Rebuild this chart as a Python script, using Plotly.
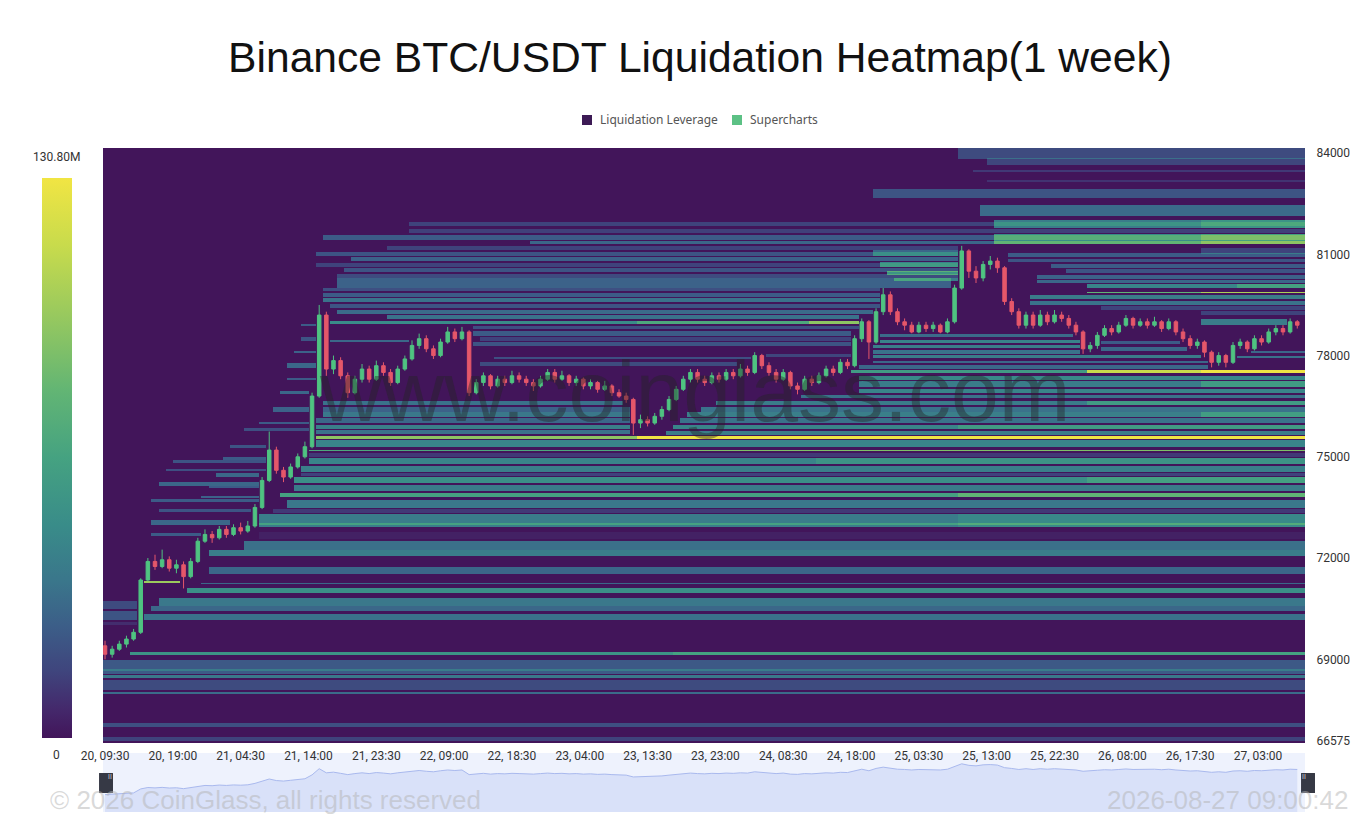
import numpy as np
import pandas as pd
import plotly.graph_objects as go

START = "2026-08-20 09:30"

# hourly BTC/USDT candles, 20 09:30 -> 27 08:30
first_open = 69400
close = [69150, 69300, 69450, 69600, 69800, 71350, 71900, 71750, 71950, 71700,
         71800, 71450, 71900, 72500, 72700, 72600, 72850, 72700, 72900, 72800,
         72950, 73500, 74300, 75200, 74600, 74400, 74700, 75000, 75300, 76800,
         79200, 77600, 77850, 77400, 76900, 77300, 77600, 77300, 77700, 77500,
         77200, 77600, 77900, 78300, 78500, 78200, 78000, 78400, 78700, 78500,
         78700, 76900, 77200, 77400, 77100, 77300, 77200, 77400, 77300, 77200,
         77100, 77300, 77500, 77300, 77400, 77200, 77300, 77100, 77200, 77000,
         77100, 76900, 76800, 76700, 76000, 76100, 76000, 76200, 76400, 76700,
         77000, 77300, 77500, 77300, 77200, 77400, 77300, 77500, 77400, 77600,
         77500, 78000, 77700, 77500, 77300, 77500, 77100, 77000, 77300, 77200,
         77400, 77600, 77500, 77800, 77700, 78500, 79000, 78400, 79300, 79800,
         79300, 79000, 78900, 78700, 78900, 78800, 78900, 78700, 79000, 80000,
         81100, 80500, 80300, 80700, 80800, 80600, 79600, 79300, 78900, 79200,
         78900, 79200, 79000, 79200, 79100, 78900, 78700, 78200, 78300, 78600,
         78800, 78700, 78900, 79100, 78900, 79000, 78900, 79000, 78800, 79000,
         78700, 78500, 78300, 78400, 78100, 77800, 78000, 77800, 78300, 78400,
         78200, 78500, 78400, 78700, 78800, 78700, 79000, 78900]
high = [69550, 69400, 69550, 69700, 69900, 71400, 72000, 72100, 72250, 72050,
        71950, 71900, 72000, 72600, 72850, 72800, 72950, 72950, 73000, 73050,
        73100, 73600, 74400, 75750, 75300, 74700, 74800, 75100, 75450, 76900,
        79500, 79300, 78000, 77950, 77500, 77400, 77750, 77700, 77850, 77800,
        77600, 77700, 78000, 78450, 78650, 78600, 78300, 78500, 78850, 78800,
        78850, 78750, 77300, 77500, 77450, 77400, 77400, 77550, 77500, 77400,
        77300, 77400, 77600, 77600, 77550, 77450, 77400, 77350, 77300, 77250,
        77250, 77150, 77000, 76900, 76750, 76250, 76200, 76300, 76500, 76800,
        77100, 77400, 77600, 77600, 77400, 77500, 77500, 77600, 77600, 77750,
        77700, 78100, 78050, 77800, 77600, 77600, 77550, 77200, 77400, 77400,
        77500, 77700, 77700, 77900, 77900, 78600, 79100, 79050, 79400, 80000,
        79900, 79400, 79100, 79000, 79000, 79000, 79000, 78950, 79100, 80100,
        81250, 81150, 80650, 80800, 80950, 80900, 80650, 79700, 79400, 79300,
        79300, 79350, 79300, 79350, 79300, 79200, 79000, 78750, 78400, 78700,
        78900, 78900, 79000, 79200, 79150, 79100, 79100, 79150, 79050, 79100,
        79050, 78800, 78600, 78500, 78450, 78150, 78100, 78050, 78400, 78500,
        78450, 78600, 78600, 78800, 78900, 78900, 79100, 79050]
low = [69000, 69050, 69250, 69350, 69550, 69750, 71320, 71650, 71700, 71600,
       71550, 71100, 71400, 71850, 72450, 72450, 72550, 72600, 72650, 72700,
       72750, 72900, 73450, 74250, 74500, 74250, 74350, 74650, 74950, 75250,
       76750, 77400, 77450, 77300, 76750, 76850, 77200, 77200, 77250, 77400,
       77100, 77150, 77550, 77850, 78200, 78100, 77900, 77950, 78350, 78400,
       78450, 76800, 76850, 77100, 77000, 77050, 77100, 77150, 77200, 77100,
       76950, 77050, 77250, 77200, 77250, 77100, 77100, 77000, 77000, 76900,
       76950, 76800, 76750, 76600, 75650, 75850, 75900, 75950, 76100, 76350,
       76650, 76950, 77200, 77200, 77100, 77150, 77200, 77250, 77300, 77350,
       77400, 77450, 77600, 77400, 77200, 77250, 77000, 76850, 76950, 77100,
       77150, 77350, 77400, 77450, 77600, 77650, 78400, 77900, 78350, 79200,
       79200, 78900, 78750, 78660, 78660, 78700, 78700, 78660, 78660, 78950,
       79950, 80300, 80150, 80200, 80550, 80450, 79500, 79200, 78800, 78800,
       78800, 78850, 78900, 78950, 79000, 78800, 78600, 78050, 78100, 78200,
       78550, 78600, 78650, 78850, 78800, 78850, 78800, 78850, 78700, 78750,
       78600, 78400, 78200, 78200, 77950, 77650, 77700, 77650, 77750, 78200,
       78100, 78150, 78300, 78350, 78600, 78600, 78650, 78800]
open_ = [first_open] + close[:-1]

time_labels = ["20, 09:30", "20, 19:00", "21, 04:30", "21, 14:00", "21, 23:30", "22, 09:00",
               "22, 18:30", "23, 04:00", "23, 13:30", "23, 23:00", "24, 08:30", "24, 18:00",
               "25, 03:30", "25, 13:00", "25, 22:30", "26, 08:00", "26, 17:30", "27, 03:00"]
price_ticks = [66575, 69000, 72000, 75000, 78000, 81000, 84000]

# liquidation levels: (price, thickness USD, first hour, size in M USD)
# a level lives until price trades through it
bands_bottom = [(66645, 90, 0, 15), (67050, 120, 0, 20), (68000, 60, 0, 32), (68230, 300, 0, 18),
                (68485, 90, 0, 38), (68610, 80, 0, 25), (68680, 50, 0, 40), (68830, 250, 0, 24),
                (69165, 90, 4, 55), (69165, 90, 80, 10), (70050, 90, 0, 8), (70300, 280, 0, 22),
                (70600, 200, 0, 18), (70250, 180, 6, 35), (70480, 150, 7, 30), (70700, 220, 8, 38),
                (71030, 150, 11, 52), (71280, 50, 6, 100), (71250, 40, 14, 30)]
bands_lower = [(71636, 180, 15, 30), (72150, 150, 15, 40), (72376, 296, 20, 34), (72670, 200, 22, 4),
               (73115, 400, 22, 40), (73000, 60, 22, 25), (73115, 400, 120, 8), (73410, 120, 24, 12),
               (73600, 200, 26, 38), (73860, 115, 25, 65), (73860, 115, 120, 15), (74075, 150, 27, 40),
               (74300, 180, 27, 52), (74300, 180, 138, 12), (74475, 50, 28, 15), (74640, 210, 28, 42),
               (74875, 150, 29, 45), (74875, 150, 100, 10), (75040, 120, 29, 12), (75188, 60, 29, 70),
               (75188, 60, 74, 20), (75380, 200, 30, 45), (75570, 70, 30, 95), (75570, 70, 75, 35)]
bands_early = [(72700, 60, 7, 25), (73050, 100, 7, 30), (73400, 60, 8, 22), (73700, 80, 7, 25),
               (74200, 100, 8, 30), (74600, 60, 9, 20), (74850, 80, 10, 22), (73800, 80, 14, 28),
               (74100, 60, 15, 25), (74450, 100, 16, 30), (74950, 60, 17, 25), (75300, 80, 18, 22),
               (75800, 60, 20, 20), (76000, 80, 22, 25), (76400, 100, 24, 28), (76900, 60, 25, 30),
               (77300, 80, 26, 25), (77700, 100, 26, 30), (78100, 60, 27, 28), (78500, 100, 28, 22),
               (78900, 60, 28, 25)]
bands_middle = [(75720, 120, 30, 35), (75880, 120, 30, 42), (76060, 140, 30, 30), (76240, 120, 31, 38),
                (76420, 140, 31, 28), (76600, 120, 31, 35), (75700, 100, 79, 40), (75880, 120, 80, 45),
                (75880, 120, 120, 15), (76060, 140, 81, 35), (76240, 120, 82, 42), (76240, 120, 154, 20),
                (76420, 140, 84, 35), (76600, 120, 86, 40), (76600, 120, 138, 20), (76780, 100, 98, 35),
                (76950, 120, 106, 45), (77150, 160, 106, 40), (77150, 160, 154, 20), (77340, 100, 106, 48),
                (77520, 80, 105, 60), (77520, 80, 138, 55), (77520, 80, 154, 15), (77650, 100, 106, 30),
                (77800, 80, 108, 30), (77960, 80, 108, 40), (77950, 80, 159, 35), (78100, 80, 161, 30)]
bands_upper_mid = [(78100, 100, 108, 35), (78260, 100, 108, 42), (78420, 100, 109, 45), (78590, 100, 109, 32),
                   (78200, 100, 139, 30), (78380, 100, 140, 25), (77750, 100, 53, 18), (77930, 80, 55, 20),
                   (78000, 80, 93, 16), (78350, 100, 52, 22), (78500, 100, 53, 15),
                   (78650, 120, 52, 25), (78820, 80, 52, 20), (78440, 60, 32, 30), (78980, 70, 31, 50),
                   (78980, 70, 75, 20), (78980, 70, 99, 25), (79000, 150, 154, 40), (79130, 100, 40, 35),
                   (79300, 100, 33, 32), (79470, 100, 32, 22), (79640, 120, 31, 35), (79800, 100, 31, 25),
                   (79960, 100, 31, 20)]
bands_top = [(80150, 250, 33, 28), (80360, 120, 33, 18), (80520, 120, 34, 22), (80680, 120, 30, 15),
             (80850, 100, 35, 28), (81010, 120, 30, 22), (81180, 100, 40, 15), (81350, 60, 60, 30),
             (81500, 120, 31, 25), (81700, 100, 43, 14), (81900, 100, 43, 15), (81050, 150, 108, 30),
             (80700, 100, 109, 45), (80450, 100, 110, 55), (80250, 80, 111, 40), (80980, 120, 127, 25),
             (80810, 80, 127, 22), (80650, 120, 133, 25), (80500, 120, 135, 22), (80330, 120, 131, 28),
             (80180, 100, 131, 30), (80050, 100, 138, 45), (80050, 100, 159, 20), (79860, 60, 138, 80),
             (79860, 60, 154, 25), (79720, 120, 130, 40), (79560, 120, 130, 35), (79400, 100, 140, 15),
             (79270, 100, 154, 15), (81100, 150, 154, 15), (81450, 250, 125, 50), (81450, 250, 154, 15),
             (81900, 200, 125, 40), (81900, 200, 154, 15), (82300, 300, 123, 32), (82800, 250, 108, 22),
             (83180, 60, 124, 10), (83480, 60, 122, 12), (83750, 200, 124, 16), (84000, 300, 120, 18)]

ZMAX = 130.8

times = pd.date_range(START, periods=len(close), freq="h")
cols = pd.date_range(START, periods=len(close) + 1, freq="h")
rows = np.arange(66500, 84201, 25)
z = np.zeros((len(rows), len(cols)))
for p, w, s, v in bands_bottom + bands_lower + bands_early + bands_middle + bands_upper_mid + bands_top:
    mask = np.abs(rows - p) <= w / 2
    alive = False
    for h in range(s, len(cols)):
        hit = h < len(close) and low[h] <= p + w / 2 and high[h] >= p - w / 2
        if hit:
            if alive:
                break
            continue
        alive = True
        z[mask, h] += v
z = np.minimum(z, ZMAX)

scale = [[0.0, "#42155a"], [0.05, "#44286b"], [0.12, "#3f457d"], [0.2, "#3c5e88"],
         [0.28, "#3a768b"], [0.38, "#398c89"], [0.5, "#45a281"], [0.62, "#62b574"],
         [0.75, "#96c85f"], [0.88, "#c8db4c"], [1.0, "#f1e543"]]

fig = go.Figure()
fig.add_trace(go.Heatmap(x=cols, y=rows, z=z, zmin=0, zmax=ZMAX, colorscale=scale,
                         zsmooth=False, hoverinfo="skip", showlegend=False,
                         colorbar=dict(x=-0.0507, xanchor="left", xpad=0, ypad=0, thickness=30,
                                       len=0.843, y=0.533, yanchor="middle", outlinewidth=0,
                                       showticklabels=False, ticks="")))
fig.add_trace(go.Candlestick(x=times, open=open_, high=high, low=low, close=close,
                             increasing=dict(line=dict(color="#4fc381", width=1), fillcolor="#4fc381"),
                             decreasing=dict(line=dict(color="#e5576a", width=1), fillcolor="#e5576a"),
                             showlegend=False, hoverinfo="skip"))
fig.add_trace(go.Scatter(x=times, y=close, xaxis="x2", yaxis="y2", mode="lines",
                         line=dict(color="#a9b9ee", width=1), fill="tozeroy",
                         fillcolor="#d9e1f9", showlegend=False, hoverinfo="skip"))

xrange = ["2026-08-20 09:13", "2026-08-27 09:35"]
tickpos = pd.date_range(START, periods=len(time_labels), freq="570min")

# the page body adds 8px, so the figure is laid out 8px up/left of screen coords
fig.update_layout(
    width=1350, height=810,
    margin=dict(l=95, r=53, t=140, b=6, autoexpand=False),
    paper_bgcolor="white", plot_bgcolor="#eef2fd",
    font=dict(family="Roboto, Noto Sans, sans-serif", color="#333"),
    showlegend=False,
    title=dict(text="Binance BTC/USDT Liquidation Heatmap(1 week)", x=0.5126, xanchor="center",
               y=0.9388, yanchor="middle",
               font=dict(family="Liberation Sans, Arial, sans-serif", size=42.6, color="#111")),
    xaxis=dict(domain=[0, 1], anchor="y", type="date", range=xrange, tickvals=tickpos,
               ticktext=time_labels, tickfont=dict(size=12, color="#333"), showgrid=False,
               zeroline=False, ticks="outside", ticklen=2, tickcolor="rgba(0,0,0,0)",
               rangeslider=dict(visible=False)),
    yaxis=dict(domain=[0.1039, 1], anchor="x", range=[66520, 84150], side="right",
               tickvals=price_ticks, ticktext=[str(t) for t in price_ticks],
               tickfont=dict(size=12, color="#333"), showgrid=False,
               zeroline=False, ticks="outside", ticklen=8, tickcolor="rgba(0,0,0,0)"),
    xaxis2=dict(domain=[0, 1], anchor="y2", type="date", range=xrange, showticklabels=False,
                showgrid=False, zeroline=False),
    yaxis2=dict(domain=[0, 0.0889], anchor="x2", range=[62400, 85300], showticklabels=False,
                showgrid=False, zeroline=False),
)

# legend drawn by hand
legend_items = [("Liquidation Leverage", "#3d1a55", 0.3985), ("Supercharts", "#5cc185", 0.5233)]
for name, color, lx in legend_items:
    fig.add_shape(type="rect", xref="paper", yref="paper", x0=lx, x1=lx + 0.0083,
                  y0=1.0346, y1=1.0497, fillcolor=color, line=dict(width=0))
    fig.add_annotation(text=name, x=lx + 0.0133, y=1.0422, xref="paper", yref="paper",
                       xanchor="left", yanchor="middle", showarrow=False,
                       font=dict(family="Noto Sans, sans-serif", size=12, color="#555"))

fig.add_annotation(text="www.coinglass.com", x=0.4925, y=0.71, xref="paper", yref="paper",
                   showarrow=False, font=dict(family="Liberation Sans, Arial", size=86,
                                              color="rgba(35,35,35,0.42)"))
fig.add_annotation(text="130.80M", x=-0.0383, y=0.9864, xref="paper", yref="paper",
                   xanchor="center", yanchor="middle", showarrow=False,
                   font=dict(size=12, color="#333"))
fig.add_annotation(text="0", x=-0.0383, y=0.0858, xref="paper", yref="paper",
                   xanchor="center", yanchor="middle", showarrow=False,
                   font=dict(size=12, color="#333"))
fig.add_annotation(text="© 2026 CoinGlass, all rights reserved", x=-0.0458, y=0.018,
                   xref="paper", yref="paper", xanchor="left", yanchor="middle", showarrow=False,
                   font=dict(family="Liberation Sans, Arial", size=26, color="rgba(180,180,180,0.5)"))
fig.add_annotation(text="2026-08-27 09:00:42", x=1.0374, y=0.018, xref="paper", yref="paper",
                   xanchor="right", yanchor="middle", showarrow=False,
                   font=dict(family="Liberation Sans, Arial", size=26, color="rgba(180,180,180,0.5)"))

# navigator handles
for cx in [0.0025, 1.0025]:
    fig.add_shape(type="rect", xref="paper", yref="paper", x0=cx - 0.0058, x1=cx + 0.0058,
                  y0=0.0286, y1=0.0587, fillcolor="#363945", line=dict(width=0), layer="above")
    fig.add_annotation(text="II", x=cx, y=0.0436, xref="paper", yref="paper", showarrow=False,
                       font=dict(size=7, color="#cfd2da"))

fig.write_html("out.html")
